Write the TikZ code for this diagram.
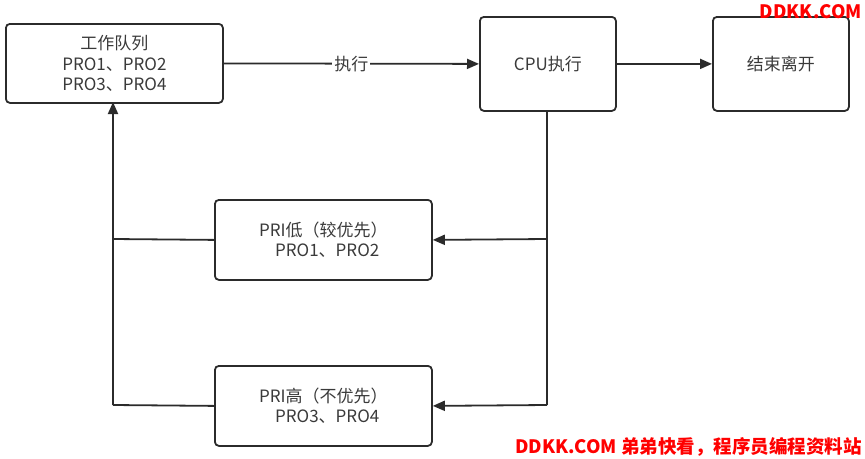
\documentclass[tikz,border=0pt]{standalone}
\usepackage{fontspec}
\setmainfont{Noto Sans CJK SC}
\usetikzlibrary{arrows.meta}
\definecolor{txt}{HTML}{3A3A3A}
\definecolor{ln}{HTML}{2B2B2B}
\definecolor{wm}{HTML}{FF0000}
\begin{document}
\begin{tikzpicture}[x=1pt,y=-1pt,
  box/.style={draw=ln,line width=1.8pt,rounded corners=4pt,inner sep=0pt,anchor=north west,text=txt,align=center,font=\fontsize{17}{20.5}\selectfont},
  conn/.style={draw=ln,line width=1.8pt},
  arr/.style={conn,-{Triangle[length=12pt,width=10pt]}}]
\useasboundingbox (0,0) rectangle (865,458);
\node[box,minimum width=217pt,minimum height=79pt] (q) at (5,23) {工作队列\\PRO1、PRO2\\PRO3、PRO4};
\node[box,minimum width=136pt,minimum height=94pt] (cpu) at (479,16) {CPU执行};
\node[box,minimum width=136pt,minimum height=94pt] (end) at (712,16) {结束离开};
\node[box,minimum width=217pt,minimum height=80pt] (lo) at (214,199) {PRI低（较优先）\\\ \ PRO1、PRO2};
\node[box,minimum width=217pt,minimum height=80pt] (hi) at (214,365) {PRI高（不优先）\\\ \ PRO3、PRO4};
\draw[arr] (q.east) -- node[fill=white,text=txt,inner sep=2pt,font=\fontsize{17}{19}\selectfont] (lbl) {执行} (cpu.west);
\draw[arr] (cpu.east) -- (end.west);
\coordinate (cb) at (547,110);
\coordinate (j1) at (547,239);
\coordinate (j2) at (547,405);
\coordinate (l1) at (113,239);
\coordinate (l2) at (113,405);
\coordinate (qb) at (113,102);
\draw[conn] (cb) -- (j2);
\draw[arr] (j1) -- (lo.east);
\draw[arr] (j2) -- (hi.east);
\draw[conn] (lo.west) -- (l1);
\draw[conn] (hi.west) -- (l2);
\draw[arr] (l2) -- (qb);
\node[anchor=north east,text=wm,inner sep=0pt,font=\fontsize{18.5}{18.5}\bfseries\selectfont] (wm1) at (862,4) {DDKK.COM};
\node[anchor=south east,text=wm,inner sep=0pt,font=\fontsize{18.5}{18.5}\bfseries\selectfont] (wm2) at (862,457) {DDKK.COM 弟弟快看，程序员编程资料站};
\end{tikzpicture}
\end{document}
